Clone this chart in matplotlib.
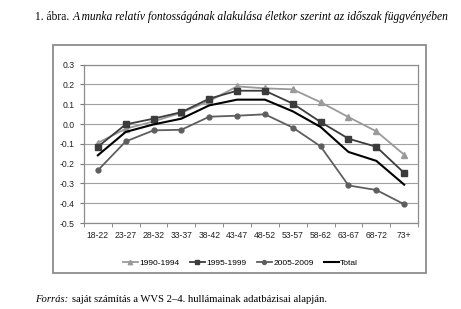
import matplotlib.pyplot as plt
from matplotlib.patches import Rectangle
import numpy as np

ages = ['18-22', '23-27', '28-32', '33-37', '38-42', '43-47', '48-52',
        '53-57', '58-62', '63-67', '68-72', '73+']
p1990 = [-0.095, -0.024, 0.013, 0.057, 0.116, 0.190, 0.180, 0.175, 0.110, 0.035, -0.037, -0.155]
p1995 = [-0.115, -0.002, 0.027, 0.060, 0.128, 0.168, 0.168, 0.103, 0.010, -0.074, -0.115, -0.247]
p2005 = [-0.234, -0.088, -0.032, -0.029, 0.037, 0.042, 0.049, -0.018, -0.113, -0.310, -0.333, -0.405]
total = [-0.158, -0.040, -0.002, 0.027, 0.094, 0.123, 0.123, 0.064, -0.015, -0.141, -0.186, -0.306]
yticks = [-0.5, -0.4, -0.3, -0.2, -0.1, 0.0, 0.1, 0.2, 0.3]
ylabels = ['-0.5', '-0.4', '-0.3', '-0.2', '-0.1', '0.0', '0.1', '0.2', '0.3']

plt.rcParams['font.family'] = ['Liberation Sans', 'DejaVu Sans']

fig = plt.figure(figsize=(4.61, 3.09), dpi=100)

# outer frame around chart + legend
fig.patches.append(Rectangle((0.115, 0.1165), 0.809, 0.738, transform=fig.transFigure,
                             fill=False, edgecolor='#8c8c8c', linewidth=1.3))

ax = fig.add_axes([0.182, 0.278, 0.725, 0.513])
x = np.arange(len(ages))

ax.plot(x, p1990, color='#9a9a9a', marker='^', markersize=4, lw=1.3, label='1990-1994')
ax.plot(x, p1995, color='#3c3c3c', marker='s', markersize=4, lw=1.3, label='1995-1999')
ax.plot(x, p2005, color='#5e5e5e', marker='o', markersize=3.5, lw=1.3, label='2005-2009')
ax.plot(x, total, color='black', lw=1.5, label='Total')

ax.set_xlim(-0.5, len(ages) - 0.5)
ax.set_ylim(-0.5, 0.3)
ax.set_yticks(yticks)
ax.set_yticklabels(ylabels)
ax.set_xticks(x)
ax.set_xticklabels(ages)
ax.set_xticks(np.arange(-0.5, len(ages), 1), minor=True)
ax.tick_params(axis='x', which='major', length=0, labelsize=6.2, pad=6, colors='#222222')
ax.tick_params(axis='x', which='minor', length=3, color='#777777')
ax.tick_params(axis='y', length=3, color='#777777', labelsize=6.2, colors='#222222')
ax.grid(axis='y', color='#a0a0a0', lw=0.8)
ax.set_axisbelow(True)
for s in ax.spines.values():
    s.set_color('#8c8c8c')
    s.set_linewidth(0.9)

fig.legend(loc='center', bbox_to_anchor=(0.522, 0.149), ncol=4, frameon=False,
           fontsize=6, handlelength=1.8, columnspacing=1.2, handletextpad=0.2,
           markerscale=0.8)

# title and source: plain part followed by italic part
t1 = fig.text(0.076, 0.945, '1. ábra.', family='Liberation Serif', fontsize=8.3, va='center')
ax.annotate('A munka relatív fontosságának alakulása életkor szerint az időszak függvényében',
            xy=(1, 0), xycoords=t1, xytext=(2.5, 0), textcoords='offset points',
            family='Liberation Serif', style='italic', fontsize=8.3, va='bottom',
            annotation_clip=False)
t2 = fig.text(0.076, 0.03, 'Forrás:', family='Liberation Serif', style='italic', fontsize=7.7, va='center')
ax.annotate('saját számítás a WVS 2–4. hullámainak adatbázisai alapján.',
            xy=(1, 0), xycoords=t2, xytext=(2.5, 0), textcoords='offset points',
            family='Liberation Serif', fontsize=7.7, va='bottom', annotation_clip=False)

fig.savefig('out.png', dpi=100)
